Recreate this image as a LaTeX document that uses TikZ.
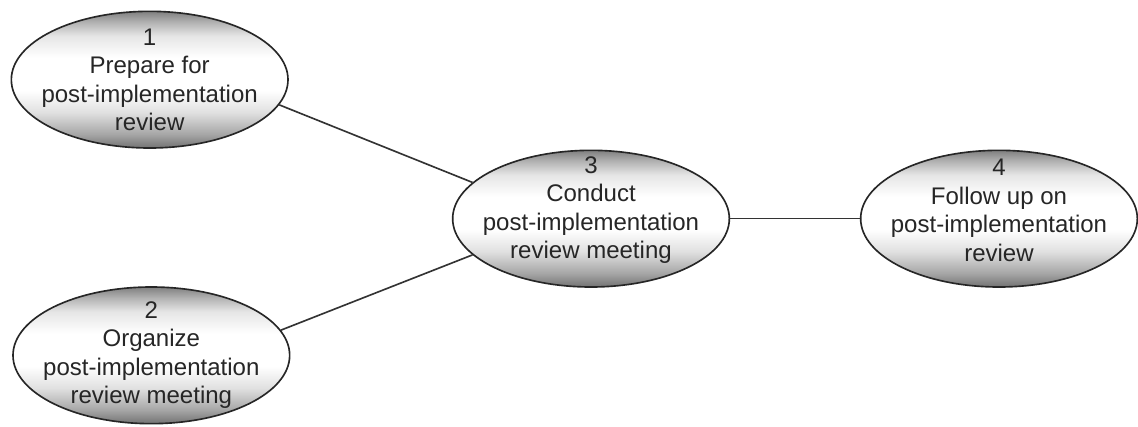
\documentclass[tikz,border=0pt]{standalone}
\usepackage{fontspec}
\setmainfont{Liberation Sans}
\usetikzlibrary{shapes.geometric}

% grey rim at top and bottom, white band a little above the middle
\pgfdeclareverticalshading{ovalshade}{100bp}{color(0bp)=(black!55); color(25bp)=(black!55); color(30bp)=(black!35); color(38bp)=(black!12); color(46bp)=(white); color(58bp)=(white); color(66bp)=(black!10); color(71bp)=(black!30); color(75bp)=(black!50); color(100bp)=(black!50)}

\begin{document}
\begin{tikzpicture}[
		oval/.style={ellipse, draw=black!85, line width=1.4pt, shade, shading=ovalshade, minimum width=8.3cm, minimum height=4.1cm, inner sep=0pt},
		caption/.style={align=center, font=\fontsize{20.5}{24.3}\selectfont, text=black!85},
		link/.style={draw=black!80, line width=1.4pt}]
		\useasboundingbox (0,0) rectangle (34.14,-12.78);

		% Steps
		\node[oval, label={[caption]center:1\\Prepare for\\post-implementation\\review}] (prep) at (4.49,-2.39) {};
		\node[oval, label={[caption]center:2\\Organize\\post-implementation\\review meeting}] (orga) at (4.54,-10.66) {};
		\node[oval, label={[caption, yshift=0.25cm]center:3\\Conduct\\post-implementation\\review meeting}] (meet) at (17.73,-6.56) {};
		\node[oval, label={[caption, yshift=0.25cm]center:4\\Follow up on\\post-implementation\\review}] (follow) at (29.97,-6.56) {};

		% Links
		\draw[link] (prep.-11) -- (meet.163);
		\draw[link] (orga.11) -- (meet.197);
		\draw[link] (meet.east) -- (follow.west);
	\end{tikzpicture}
\end{document}
